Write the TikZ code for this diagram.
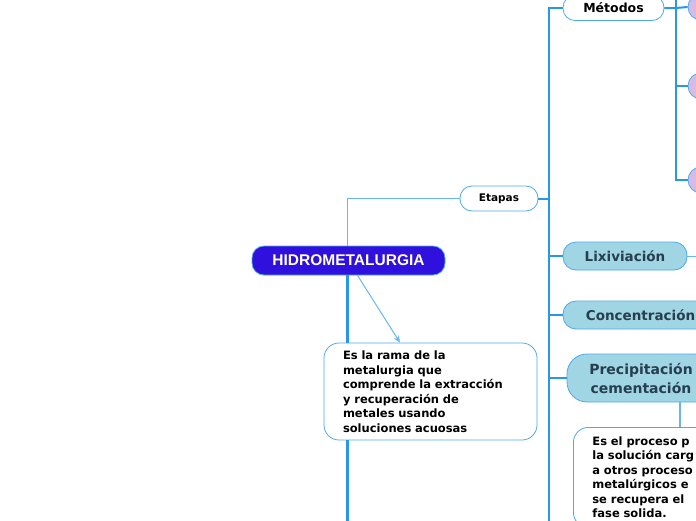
\documentclass[tikz,border=0pt]{standalone}
\usepackage{fontspec}
\setmainfont{DejaVu Sans}
\newfontfamily\headfont{Liberation Sans}
\usetikzlibrary{arrows.meta,positioning}
\definecolor{linkblue}{RGB}{38,152,228}
\definecolor{faintblue}{RGB}{105,182,236}
\definecolor{edgeblue}{RGB}{78,170,235}
\definecolor{rootfill}{RGB}{48,16,220}
\definecolor{stagefill}{RGB}{160,213,228}
\definecolor{stagetext}{RGB}{38,62,78}
\definecolor{methfill}{RGB}{216,186,230}

\begin{document}
\begin{tikzpicture}[x=1pt, y=-1pt,
    root/.style={draw=edgeblue, fill=rootfill, rounded corners=12pt, line width=0.8pt, minimum width=193pt, minimum height=29pt, inner sep=0pt, text=white, font=\headfont\bfseries\fontsize{15.5}{17}\selectfont},
    tag/.style={draw=edgeblue, fill=white, rounded corners=12pt, line width=0.8pt, minimum height=25pt, inner sep=0pt},
    stage/.style={draw=edgeblue, fill=stagefill, rounded corners=13pt, line width=0.8pt, minimum height=28pt, inner sep=0pt, text=stagetext, font=\bfseries\fontsize{13.5}{16}\selectfont},
    note/.style={draw=edgeblue, fill=white, rounded corners=15pt, line width=0.8pt, inner xsep=19pt, align=left, font=\bfseries\fontsize{11.5}{14.5}\selectfont},
    dot/.style={circle, draw=edgeblue, fill=methfill, line width=0.8pt, minimum size=26pt, inner sep=0pt},
    link/.style={linkblue, line width=2pt},
    faint/.style={faintblue, line width=1pt},
    arr/.style={-{Stealth[length=7pt,width=6pt]}, faintblue, line width=1pt},
]
\useasboundingbox (0,0) rectangle (696,520);
\clip (0,0) rectangle (696,520);

% Centre
\node[root] (hidro) at (348.5,260.5) {HIDROMETALURGIA};
\node[note, minimum width=213pt, minimum height=97pt, text width=175pt] (defin) at (430.5,391.5)
  {Es la rama de la\\metalurgia que\\comprende la extracción\\y recuperación de\\metales usando\\soluciones acuosas};

% Stages
\node[tag, minimum width=78pt, font=\bfseries\fontsize{10.5}{12}\selectfont] (etapas) at (499,198.5) {Etapas};
\node[tag, minimum width=101pt, font=\bfseries\fontsize{12.5}{14}\selectfont] (metodos) at (613.5,8) {Métodos};
\node[stage, minimum width=124pt] (lixi) at (625,256) {Lixiviación};
\node[stage, minimum width=155pt] (conc) at (640.5,315) {Concentración};
\node[stage, minimum width=148pt, minimum height=48pt, rounded corners=20pt, align=center, font=\bfseries\fontsize{14}{19}\selectfont] (prec) at (641,378) {Precipitación\\cementación};
\node[note, anchor=north west, minimum width=160pt, minimum height=100pt, text width=160pt] (proceso) at (573,427)
  {Es el proceso p\\la solución carg\\a otros proceso\\metalúrgicos e\\se recupera el\\fase solida.};

% Methods
\node[dot] (met1) at (701,7) {};
\node[dot] (met2) at (701,86) {};
\node[dot] (met3) at (701,180) {};

% Joints
\coordinate (hend) at (347.5,525);
\coordinate (ejoin) at (549,198.5);
\coordinate (eend) at (549,525);
\coordinate (mjoin) at (676,8);
\coordinate (mtop) at (676,-5);
\coordinate (lixout) at (700,256);

% Links
\draw[faint] ([xshift=-1pt]hidro.north) |- (etapas.west);
\draw[link, line width=2.5pt] (hend |- hidro.south) -- (hend |- defin.north);
\draw[link, line width=2.5pt] (hend |- defin.south) -- (hend);
\draw[arr] ([xshift=9pt]hidro.south) -- ([xshift=-30.5pt]defin.north);
\draw[link] (etapas.east) -- (ejoin);
\draw[link] (metodos.west) -| (eend);
\draw[link] (ejoin) |- (lixi.west);
\draw[link] (ejoin) |- (conc.west);
\draw[link] (ejoin) |- (prec.west);
\draw[link] (metodos.east) -- (mjoin) -- (met1.west);
\draw[link] (mtop) |- (met3.west);
\draw[link] (mjoin) |- (met2.west);
\draw[faint] (lixi.east) -- (lixout);
\draw[faint, line width=1.3pt] ([xshift=39pt]prec.south) -- ([xshift=39pt]prec.south |- proceso.north);
\end{tikzpicture}
\end{document}
